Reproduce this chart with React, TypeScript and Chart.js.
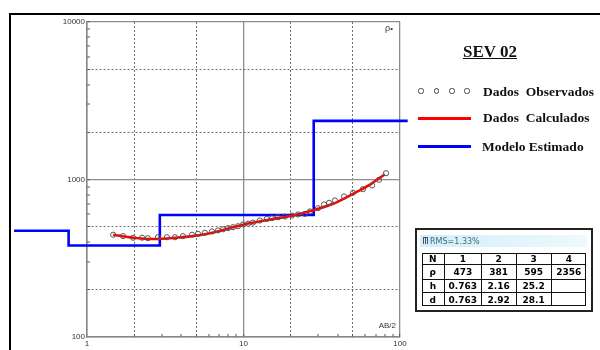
import React, { useEffect, useRef } from "react";
import { Chart, registerables } from "chart.js";

Chart.register(...registerables);

// AB/2 (m) and apparent resistivity (ohm.m) of the observed sounding
const obsAB2 = [1.47, 1.7, 1.97, 2.25, 2.45, 2.84, 3.24, 3.65, 4.1, 4.69, 5.12, 5.67, 6.29, 6.87, 7.4, 7.96, 8.57, 9.22, 9.93, 10.7, 11.5, 12.7, 14.1, 15.2, 16.6, 18.4, 20.4, 22.3, 24.7, 26.6, 29.9, 32.7, 35.2, 38.4, 43.9, 50.1, 58.0, 66.3, 73.4, 81.4];
const obsRho = [446, 437, 427, 427, 424, 430, 430, 430, 437, 446, 452, 459, 468, 475, 483, 491, 498, 505, 518, 524, 533, 549, 562, 568, 576, 582, 591, 600, 605, 627, 657, 694, 711, 736, 780, 824, 868, 916, 996, 1096];

// calculated curve
const calcAB2 = [1.47, 1.97, 2.64, 3.54, 5.05, 6.11, 10.1, 14.8, 20.4, 28.6, 37.3, 50.1, 64.3, 80];
const calcRho = [446, 427, 419, 425, 441, 456, 518, 557, 589, 642, 701, 811, 929, 1080];

// estimated layered model
const layerN = ["1", "2", "3", "4"];
const layerRho = [473, 381, 595, 2356];
const layerH = ["0.763", "2.16", "25.2", ""];
const layerD = ["0.763", "2.92", "28.1", ""];
const layerDepth = [0.763, 2.92, 28.1];
const modelStart = 0.342;
const modelEnd = 112;
const rmsText = "RMS=1.33%";

// axis ticks
const xTickValues = [1, 2, 3, 4, 5, 6, 7, 8, 9, 10, 20, 30, 40, 50, 60, 70, 80, 90, 100];
const yTickValues = [100, 200, 300, 400, 500, 600, 700, 800, 900, 1000, 2000, 3000, 4000, 5000, 6000, 7000, 8000, 9000, 10000];
const xLabelValues = [1, 10, 100];
const yLabelValues = [100, 1000, 10000];
const solidGridValues = [1, 10, 100, 1000, 10000];
const dottedGridValues = [2, 5, 20, 50, 200, 500, 2000, 5000];

const title = "SEV 02";
const legendObs = "Dados  Observados";
const legendCalc = "Dados  Calculados";
const legendModel = "Modelo Estimado";

const has = (arr: number[], v: number) => arr.some((a) => Math.abs(a - v) < 1e-9 * Math.max(1, a));

export default function App() {
  const ref = useRef<HTMLCanvasElement | null>(null);
  useEffect(() => {
    if (!ref.current) return;
    const tv = (c: any) => (c && c.tick ? c.tick.value : undefined);
    const gridWidth = (c: any) => {
      const v = tv(c);
      if (v == null) return 0;
      if (has(solidGridValues, v)) return 1.3;
      if (has(dottedGridValues, v)) return 1;
      return 0;
    };
    const gridColor = (c: any) => {
      const v = tv(c);
      if (v != null && has(solidGridValues, v)) return "#8c8c8c";
      return "#6f6f6f";
    };
    const gridDash = (c: any) => {
      const v = tv(c);
      if (v != null && has(dottedGridValues, v)) return [2, 2];
      return [];
    };
    const tickFont = { family: "'Liberation Sans', Arial, sans-serif", size: 8 };
    const modelX = [modelStart, ...layerDepth, modelEnd];
    const modelY = [...layerRho, layerRho[layerRho.length - 1]];
    const chart = new Chart(ref.current, {
      type: "scatter",
      data: {
        datasets: [
          {
            label: legendObs,
            data: obsAB2.map((x, i) => ({ x, y: obsRho[i] })),
            pointRadius: 2.6,
            pointBorderColor: "#555",
            pointBackgroundColor: "rgba(0,0,0,0)",
            pointBorderWidth: 1,
            order: 1,
          },
          {
            label: legendCalc,
            data: calcAB2.map((x, i) => ({ x, y: calcRho[i] })),
            showLine: true,
            borderColor: "#ff0000",
            backgroundColor: "#ff0000",
            borderWidth: 2.6,
            pointRadius: 0,
            cubicInterpolationMode: "monotone",
            order: 2,
          },
          {
            label: legendModel,
            data: modelX.map((x, i) => ({ x, y: modelY[i] })),
            showLine: true,
            stepped: "before",
            borderColor: "#0000ff",
            backgroundColor: "#0000ff",
            borderWidth: 2.6,
            pointRadius: 0,
            clip: false,
            order: 3,
          },
        ],
      } as any,
      options: {
        animation: false,
        responsive: false,
        events: [],
        layout: { padding: { left: 0, top: 22, right: 200, bottom: 0 } },
        plugins: { legend: { display: false }, tooltip: { enabled: false } },
        scales: {
          x: {
            type: "logarithmic",
            position: "bottom",
            afterDataLimits: (s: any) => { s.min = xMin(); s.max = xMax(); },
            afterBuildTicks: (s: any) => { s.ticks = xTickValues.map((value) => ({ value })); },
            afterFit: (s: any) => { s.height = 13; },
            grid: { color: gridColor, lineWidth: gridWidth, drawTicks: true, tickLength: -3, tickColor: "#555", tickWidth: 1 },
            border: { display: true, color: "#858585", width: 1.5, dash: gridDash },
            ticks: {
              font: tickFont,
              color: "#333",
              padding: 5,
              autoSkip: false,
              maxRotation: 0,
              callback: (v: any) => (has(xLabelValues, Number(v)) ? String(v) : ""),
            },
          },
          y: {
            type: "logarithmic",
            min: yTickValues[0],
            max: yTickValues[yTickValues.length - 1],
            afterBuildTicks: (s: any) => { s.ticks = yTickValues.map((value) => ({ value })); },
            afterFit: (s: any) => { s.width = 87; },
            grid: { color: gridColor, lineWidth: gridWidth, drawTicks: true, tickLength: -3, tickColor: "#555", tickWidth: 1 },
            border: { display: true, color: "#858585", width: 1.5, dash: gridDash },
            ticks: {
              font: tickFont,
              color: "#333",
              padding: 5,
              autoSkip: false,
              callback: (v: any) => (has(yLabelValues, Number(v)) ? String(v) : ""),
            },
          },
        },
      } as any,
    });
    return () => chart.destroy();
  }, []);

  const serif = "'Liberation Serif', 'Times New Roman', serif";
  const sans = "'DejaVu Sans', Verdana, sans-serif";
  const colX = [421.7, 445, 481.7, 516.7, 551.7, 586];
  const rowY = [253.3, 265.3, 279.7, 293.3, 306];
  const rows: string[][] = [
    ["N", ...layerN],
    ["ρ", ...layerRho.map(String)],
    ["h", ...layerH],
    ["d", ...layerD],
  ];
  const abs = (o: React.CSSProperties): React.CSSProperties => ({ position: "absolute", ...o });

  return (
    <div style={{ position: "fixed", left: 0, top: 0, width: 600, height: 350, overflow: "hidden", background: "#fff" }}>
      <div style={abs({ left: 9, top: 13, width: 640, height: 400, border: "2px solid #000", boxSizing: "border-box" })} />
      <canvas ref={ref} width={600} height={350} style={abs({ left: 0, top: 0, width: 600, height: 350 })} />
      {/* axis captions inside plot */}
      <div style={abs({ left: 366, top: 322, width: 30, textAlign: "right", font: `8px 'Liberation Sans', Arial, sans-serif`, lineHeight: "8px", color: "#333" })}>AB/2</div>
      <div style={abs({ left: 385, top: 24, font: `9px 'Liberation Sans', Arial, sans-serif`, lineHeight: "9px", color: "#333" })}>ρ<span style={{ color: "#335", fontSize: 8 }}>•</span></div>
      {/* title */}
      <div style={abs({ left: 463, top: 43, font: `bold 17px ${serif}`, lineHeight: "17px", color: "#111", textDecoration: "underline", whiteSpace: "pre" })}>{title}</div>
      {/* legend */}
      {[421, 436.5, 452, 467].map((cx, i) => (
        <div key={i} style={abs({ left: cx - 2.6, top: 91 - 2.6, width: 5.2, height: 5.2, border: "1px solid #444", borderRadius: "50%", boxSizing: "border-box" })} />
      ))}
      <div style={abs({ left: 483, top: 84.7, font: `bold 13.5px ${serif}`, lineHeight: "13.5px", color: "#111", whiteSpace: "pre" })}>{legendObs}</div>
      <div style={abs({ left: 418, top: 117, width: 53, height: 2.6, background: "#ff0000" })} />
      <div style={abs({ left: 483, top: 111.2, font: `bold 13.5px ${serif}`, lineHeight: "13.5px", color: "#111", whiteSpace: "pre" })}>{legendCalc}</div>
      <div style={abs({ left: 418, top: 145.4, width: 53, height: 2.6, background: "#0000ff" })} />
      <div style={abs({ left: 482, top: 140.2, font: `bold 13.5px ${serif}`, lineHeight: "13.5px", color: "#111", whiteSpace: "pre" })}>{legendModel}</div>
      {/* model table */}
      <div style={abs({ left: 415, top: 228.3, width: 178, height: 84, border: "2px solid #222", boxSizing: "border-box", background: "#fff" })} />
      <div style={abs({ left: 420, top: 235, width: 167, height: 12, background: "linear-gradient(to right, #d2eef9, #eef9fd)" })} />
      <div style={abs({ left: 423, top: 237, width: 5, height: 7, borderTop: "1.5px solid #456", borderLeft: "1px solid #456", borderRight: "1px solid #456", boxSizing: "border-box" })} />
      <div style={abs({ left: 425.3, top: 238, width: 0, height: 6, borderLeft: "1px solid #456" })} />
      <div style={abs({ left: 430, top: 236.5, font: `8px ${sans}`, lineHeight: "9px", color: "#3d6878", whiteSpace: "pre" })}>{rmsText}</div>
      <div style={abs({ left: colX[0], top: rowY[0], width: colX[5] - colX[0], height: rowY[4] - rowY[0], border: "1.5px solid #111", boxSizing: "border-box" })} />
      {rows.map((r, ri) =>
        r.map((txt, ci) => (
          <div
            key={`${ri}-${ci}`}
            style={abs({
              left: colX[ci],
              top: rowY[ri],
              width: colX[ci + 1] - colX[ci],
              height: rowY[ri + 1] - rowY[ri],
              borderRight: ci < 4 ? "1.5px solid #111" : "none",
              borderBottom: ri < 3 ? "1.5px solid #111" : "none",
              boxSizing: "border-box",
              display: "flex",
              alignItems: "center",
              justifyContent: "center",
              font: `bold 9px ${sans}`,
              color: "#000",
              whiteSpace: "pre",
            })}
          >
            {txt}
          </div>
        ))
      )}
    </div>
  );
}

function xMin() { return xTickValues[0]; }
function xMax() { return xTickValues[xTickValues.length - 1]; }
